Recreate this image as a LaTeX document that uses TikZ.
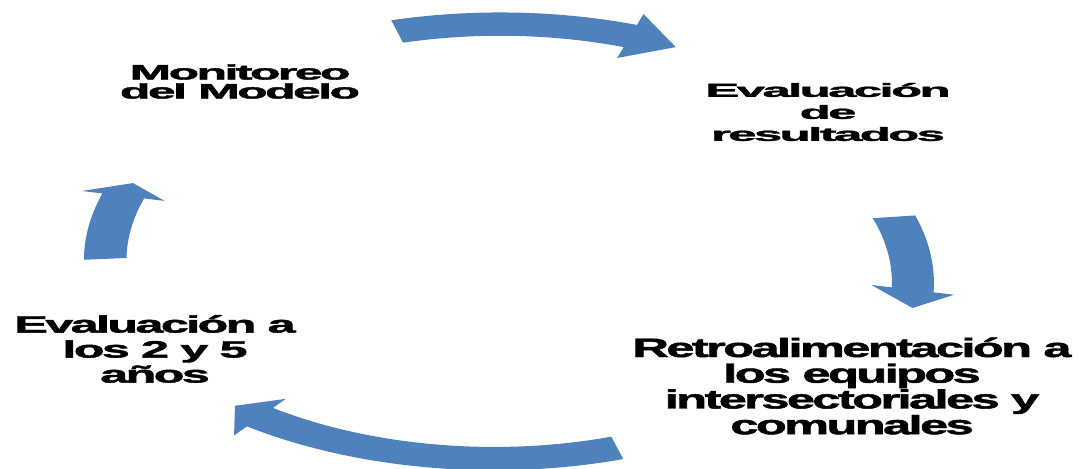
\documentclass[tikz,border=0pt]{standalone}
\usepackage{fontspec}
\setmainfont{Liberation Sans}
\newfontfamily\cyclefont[LetterSpace=-5, BoldFeatures={FakeBold=1.6}]{Liberation Sans}

\definecolor{arrowblue}{RGB}{79,129,189}

\newcommand{\stagefont}[2]{\cyclefont\bfseries\fontsize{#1}{#2}\selectfont}

\tikzset{
  cycle arrow/.style={fill=arrowblue, draw=none},
  stage label/.style={inner sep=0pt, align=center, text=black, transform shape},
}

\begin{document}
\begin{tikzpicture}[x=0.75pt, y=0.75pt]

    \useasboundingbox (0,0) rectangle (1078,468);

    \coordinate (cycle centre) at (507,226);

    \coordinate (Monitoreo pos)      at (240,386.5);
    \coordinate (Resultados pos)     at (828,356);
    \coordinate (Retro pos)          at (852,82);
    \coordinate (Evaluacion pos)     at (155,119);

    \begin{scope}[shift={(cycle centre)}, xscale=403, yscale=220]
    \foreach \tail/\base/\tip/\rtail/\rhead/\rtip in
      {105.9/71.9/64.7/0.995/0.985/0.98,
       6.8/-12.2/-16.6/0.967/1.03/1.05,
       286.3/232.4/227.8/0.975/1.005/1.005,
       184.4/167.6/163.9/1.0/0.975/0.966}
    \fill[cycle arrow]
    plot[domain=\tail:\base, samples=40]
      ({cos(\x)*(\rtail+(\rhead-\rtail)*(\x-\tail)/(\base-\tail)+0.053)},
       {sin(\x)*(\rtail+(\rhead-\rtail)*(\x-\tail)/(\base-\tail)+0.053)})
    -- ({cos(\base)*(\rhead+0.105)}, {sin(\base)*(\rhead+0.105)})
    -- ({cos(\tip)*\rtip}, {sin(\tip)*\rtip})
    -- ({cos(\base)*(\rhead-0.105)}, {sin(\base)*(\rhead-0.105)})
    -- plot[domain=\base:\tail, samples=40]
      ({cos(\x)*(\rtail+(\rhead-\rtail)*(\x-\tail)/(\base-\tail)-0.053)},
       {sin(\x)*(\rtail+(\rhead-\rtail)*(\x-\tail)/(\base-\tail)-0.053)})
    -- cycle;
    \end{scope}

    \node[stage label, xscale=2.37, font=\stagefont{15.75pt}{14.25pt}] (Monitoreo) at (Monitoreo pos)
    {Monitoreo\\del Modelo};
    \node[stage label, xscale=2.68, font=\stagefont{14.2pt}{16.5pt}] (Resultados) at (Resultados pos)
    {Evaluación\\de\\resultados};
    \node[stage label, xscale=1.9, font=\stagefont{19.9pt}{19.3pt}] (Retro) at (Retro pos)
    {Retroalimentación a\\los equipos\\intersectoriales y\\comunales};
    \node[stage label, xscale=2.11, font=\stagefont{17.8pt}{18.75pt}] (Evaluacion) at (Evaluacion pos)
    {Evaluación a\\los 2 y 5\\años};
  \end{tikzpicture}
\end{document}
